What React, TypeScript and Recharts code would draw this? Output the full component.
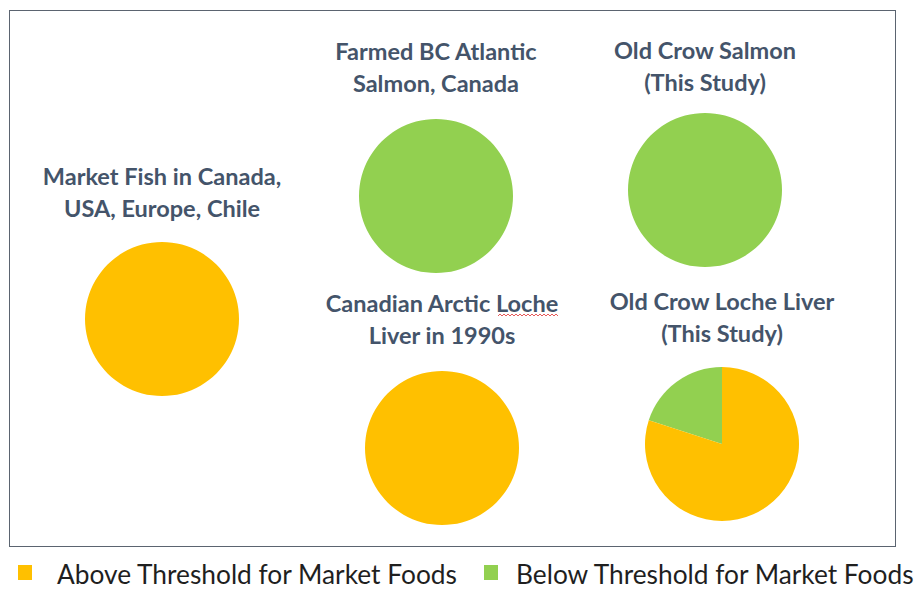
import { PieChart, Pie, Cell, Legend } from "recharts"

const categories = ["Above Threshold for Market Foods", "Below Threshold for Market Foods"]
const COLORS = ["#FFC000", "#92D050"]

// [above, below] shares in percent
const marketFish = [100, 0]
const farmedSalmon = [0, 100]
const oldCrowSalmon = [0, 100]
const arcticLoche = [100, 0]
const oldCrowLoche = [80, 20]

const titles = [
  ["Market Fish in Canada,", "USA, Europe, Chile"],
  ["Farmed BC Atlantic", "Salmon, Canada"],
  ["Old Crow Salmon", "(This Study)"],
  ["Canadian Arctic Loche", "Liver in 1990s"],
  ["Old Crow Loche Liver", "(This Study)"],
]

const series = [marketFish, farmedSalmon, oldCrowSalmon, arcticLoche, oldCrowLoche]

// layout only (chart margin is 0)
const centers = [
  { cx: 162, cy: 319, tx: 162, ty: 176 },
  { cx: 436, cy: 196, tx: 436, ty: 51 },
  { cx: 705, cy: 190, tx: 705, ty: 50 },
  { cx: 442, cy: 448, tx: 442, ty: 303 },
  { cx: 722, cy: 444, tx: 722, ty: 301 },
]

// below first so it starts at 12 o'clock going counter-clockwise; drop empty slices
const toRows = (vals: number[]) =>
  [
    { name: categories[1], value: vals[1], color: COLORS[1] },
    { name: categories[0], value: vals[0], color: COLORS[0] },
  ].filter((r) => r.value > 0)

const legendContent = () => (
  <div style={{ position: "relative", height: 30, fontFamily: "Lato, sans-serif", fontSize: 26.3, color: "#1f1f1f" }}>
    {categories.map((c, i) => (
      <div key={c}>
        <span
          style={{
            position: "absolute",
            left: i === 0 ? 18 : 484,
            top: 5,
            width: 14,
            height: 15,
            background: COLORS[i],
          }}
        />
        <span style={{ position: "absolute", left: i === 0 ? 57 : 516, top: -2, whiteSpace: "nowrap" }}>{c}</span>
      </div>
    ))}
  </div>
)

const App = () => {
  return (
    <div style={{ position: "absolute", left: 0, top: 0, width: 917, height: 590, background: "#fff" }}>
      <div
        style={{
          position: "absolute",
          left: 9,
          top: 10,
          width: 887,
          height: 537,
          border: "1px solid #5b6470",
          boxSizing: "border-box",
        }}
      />
      <PieChart width={917} height={590} margin={{ top: 0, right: 0, bottom: 0, left: 0 }}>
        {series.map((vals, i) => (
          <Pie
            key={i}
            data={toRows(vals)}
            dataKey="value"
            cx={centers[i].cx}
            cy={centers[i].cy}
            outerRadius={77}
            startAngle={90}
            endAngle={450}
            stroke="none"
            isAnimationActive={false}
          >
            {toRows(vals).map((r, j) => (
              <Cell key={j} fill={r.color} />
            ))}
          </Pie>
        ))}
        <Legend
          content={legendContent}
          wrapperStyle={{ position: "absolute", left: 0, top: 560, width: 917 }}
        />
      </PieChart>
      {titles.map((t, i) => (
        <div
          key={i}
          style={{
            position: "absolute",
            left: centers[i].tx - 150,
            top: centers[i].ty - 16,
            width: 300,
            textAlign: "center",
            fontFamily: "Lato, sans-serif",
            fontWeight: 700,
            fontSize: 23.5,
            lineHeight: "32px",
            color: "#44546A",
          }}
        >
          {t.map((l) => (
            <div key={l}>{l}</div>
          ))}
        </div>
      ))}
      <svg style={{ position: "absolute", left: 0, top: 0 }} width={917} height={590} pointerEvents="none">
        <path
          d="M498 316 l2 -2 l2 2 l2 -2 l2 2 l2 -2 l2 2 l2 -2 l2 2 l2 -2 l2 2 l2 -2 l2 2 l2 -2 l2 2 l2 -2 l2 2 l2 -2 l2 2 l2 -2 l2 2 l2 -2 l2 2 l2 -2 l2 2 l2 -2 l2 2 l2 -2 l2 2 l2 -2 l2 2"
          fill="none"
          stroke="#e03030"
          strokeWidth={0.8}
        />
      </svg>
    </div>
  )
}

export default App
